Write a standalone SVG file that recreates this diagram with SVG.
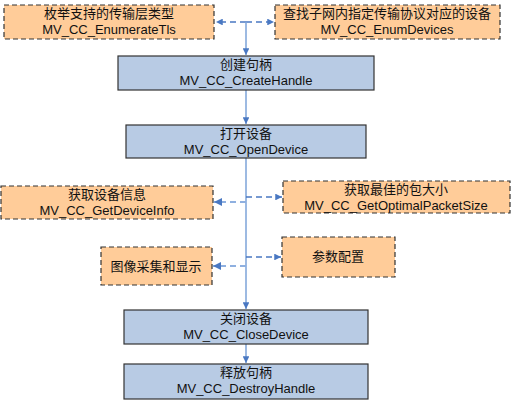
<svg xmlns="http://www.w3.org/2000/svg" width="511" height="404" viewBox="0 0 511 404">
<style>
.opt{fill:#FFCC99;stroke:#333;stroke-width:1.2;stroke-dasharray:5,3}
.main{fill:#B8CBE4;stroke:#333;stroke-width:1.2}
text{font-family:"Liberation Sans","Noto Sans CJK SC",sans-serif;font-size:13px;fill:#111;text-anchor:middle}
.solid{stroke:#7DA3D9;stroke-width:1.5;fill:none}
.dash{stroke:#4A78C2;stroke-width:1.5;fill:none;stroke-dasharray:6,4}
.dashl{stroke:#8FB0E0;stroke-width:1.8;fill:none;stroke-dasharray:6,4}
</style>
<defs>
<marker id="ah" viewBox="0 0 10 10" refX="10" refY="5" markerWidth="4.5" markerHeight="4.5" orient="auto" markerUnits="strokeWidth"><path d="M0,0L10,5L0,10z" fill="#4A78C2"/></marker>
</defs>
<rect width="511" height="404" fill="#fff"/>
<g id="connectors">
<path class="dash" d="M246,22H216" marker-end="url(#ah)"/>
<path class="dash" d="M246,22H274" marker-end="url(#ah)"/>
<path class="solid" d="M246,22V55" marker-end="url(#ah)"/>
<path class="solid" d="M246,90V124" marker-end="url(#ah)"/>
<path class="solid" d="M246,158V309" marker-end="url(#ah)"/>
<path class="solid" d="M246,344V363" marker-end="url(#ah)"/>
<path class="dashl" d="M246,202H214" marker-end="url(#ah)"/>
<path class="dash" d="M246,197H282" marker-end="url(#ah)"/>
<path class="dashl" d="M246,266H213" marker-end="url(#ah)"/>
<path class="dash" d="M246,257H281" marker-end="url(#ah)"/>
</g>
<g id="enumTls"><rect class="opt" x="4" y="5" width="210" height="34"/><text x="109" y="18">枚举支持的传输层类型</text><text x="109" y="34">MV_CC_EnumerateTls</text></g>
<g id="enumDevices"><rect class="opt" x="275" y="5" width="225" height="34"/><text x="387" y="18">查找子网内指定传输协议对应的设备</text><text x="387" y="34">MV_CC_EnumDevices</text></g>
<g id="createHandle"><rect class="main" x="118" y="56" width="256" height="34"/><text x="246" y="69">创建句柄</text><text x="246" y="85">MV_CC_CreateHandle</text></g>
<g id="openDevice"><rect class="main" x="126" y="125" width="240" height="33"/><text x="246" y="138">打开设备</text><text x="246" y="154">MV_CC_OpenDevice</text></g>
<g id="getDeviceInfo"><rect class="opt" x="1" y="186" width="212" height="33"/><text x="107" y="199">获取设备信息</text><text x="107" y="215">MV_CC_GetDeviceInfo</text></g>
<g id="getPacketSize"><rect class="opt" x="283" y="181" width="227" height="32"/><text x="396" y="194">获取最佳的包大小</text><text x="396" y="210">MV_CC_GetOptimalPacketSize</text></g>
<g id="grab"><rect class="opt" x="101" y="247" width="111" height="38"/><text x="156" y="271">图像采集和显示</text></g>
<g id="param"><rect class="opt" x="282" y="237" width="113" height="40"/><text x="338" y="261">参数配置</text></g>
<g id="closeDevice"><rect class="main" x="124" y="310" width="244" height="34"/><text x="246" y="323">关闭设备</text><text x="246" y="339">MV_CC_CloseDevice</text></g>
<g id="destroyHandle"><rect class="main" x="124" y="364" width="244" height="35"/><text x="246" y="377">释放句柄</text><text x="246" y="393">MV_CC_DestroyHandle</text></g>
</svg>
